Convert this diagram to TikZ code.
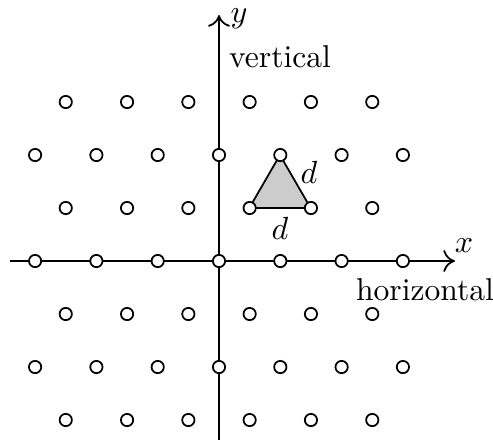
\documentclass[tikz,border=0pt]{standalone}
\usetikzlibrary{arrows.meta}
\begin{document}
\begin{tikzpicture}[x=0.342pt,y=-0.342pt,
  font=\fontsize{10.8pt}{13pt}\selectfont,
  site/.style={circle,draw,fill=white,line width=0.6pt,inner sep=0pt,minimum size=4.2pt},
  axis/.style={line width=0.6pt,-{To[length=4pt,width=7.5pt]}},
  lbl/.style={inner sep=0pt}]
\useasboundingbox (0,0) rectangle (493,442);
% axes
\coordinate (xs) at (10,261);
\coordinate (xe) at (455,261);
\coordinate (ys) at (219,440);
\coordinate (ye) at (219,15);
\draw[axis] (xs) -- (xe);
\draw[axis] (ys) -- (ye);
% triangle
\coordinate (ta) at (249.3,208);
\coordinate (tb) at (310.6,208);
\coordinate (tc) at (279.95,155);
\draw[fill=black!20,line width=0.6pt] (ta) -- (tb) -- (tc) -- cycle;
% lattice
\foreach \j in {-3,...,3}{
  \pgfmathsetmacro{\yy}{261-53*\j}
  \pgfmathtruncatemacro{\odd}{mod(abs(\j),2)}
  \ifnum\odd=0
    \foreach \i in {-3,...,3}{
      \node[site] (p\i\j) at ({219+61.3*\i},\yy) {};
    }
  \else
    \foreach \i in {-3,...,2}{
      \node[site] (p\i\j) at ({219+61.3*(\i+0.5)},\yy) {};
    }
  \fi
}
% labels
\node[lbl] (ly) at (239,19) {$y$};
\node[lbl] (lv) at (280,57) {vertical};
\node[lbl] (lx) at (464,246) {$x$};
\node[lbl] (lh) at (425,290) {horizontal};
\node[lbl] (d1) at (309,172) {$d$};
\node[lbl] (d2) at (280,228) {$d$};
\end{tikzpicture}
\end{document}
